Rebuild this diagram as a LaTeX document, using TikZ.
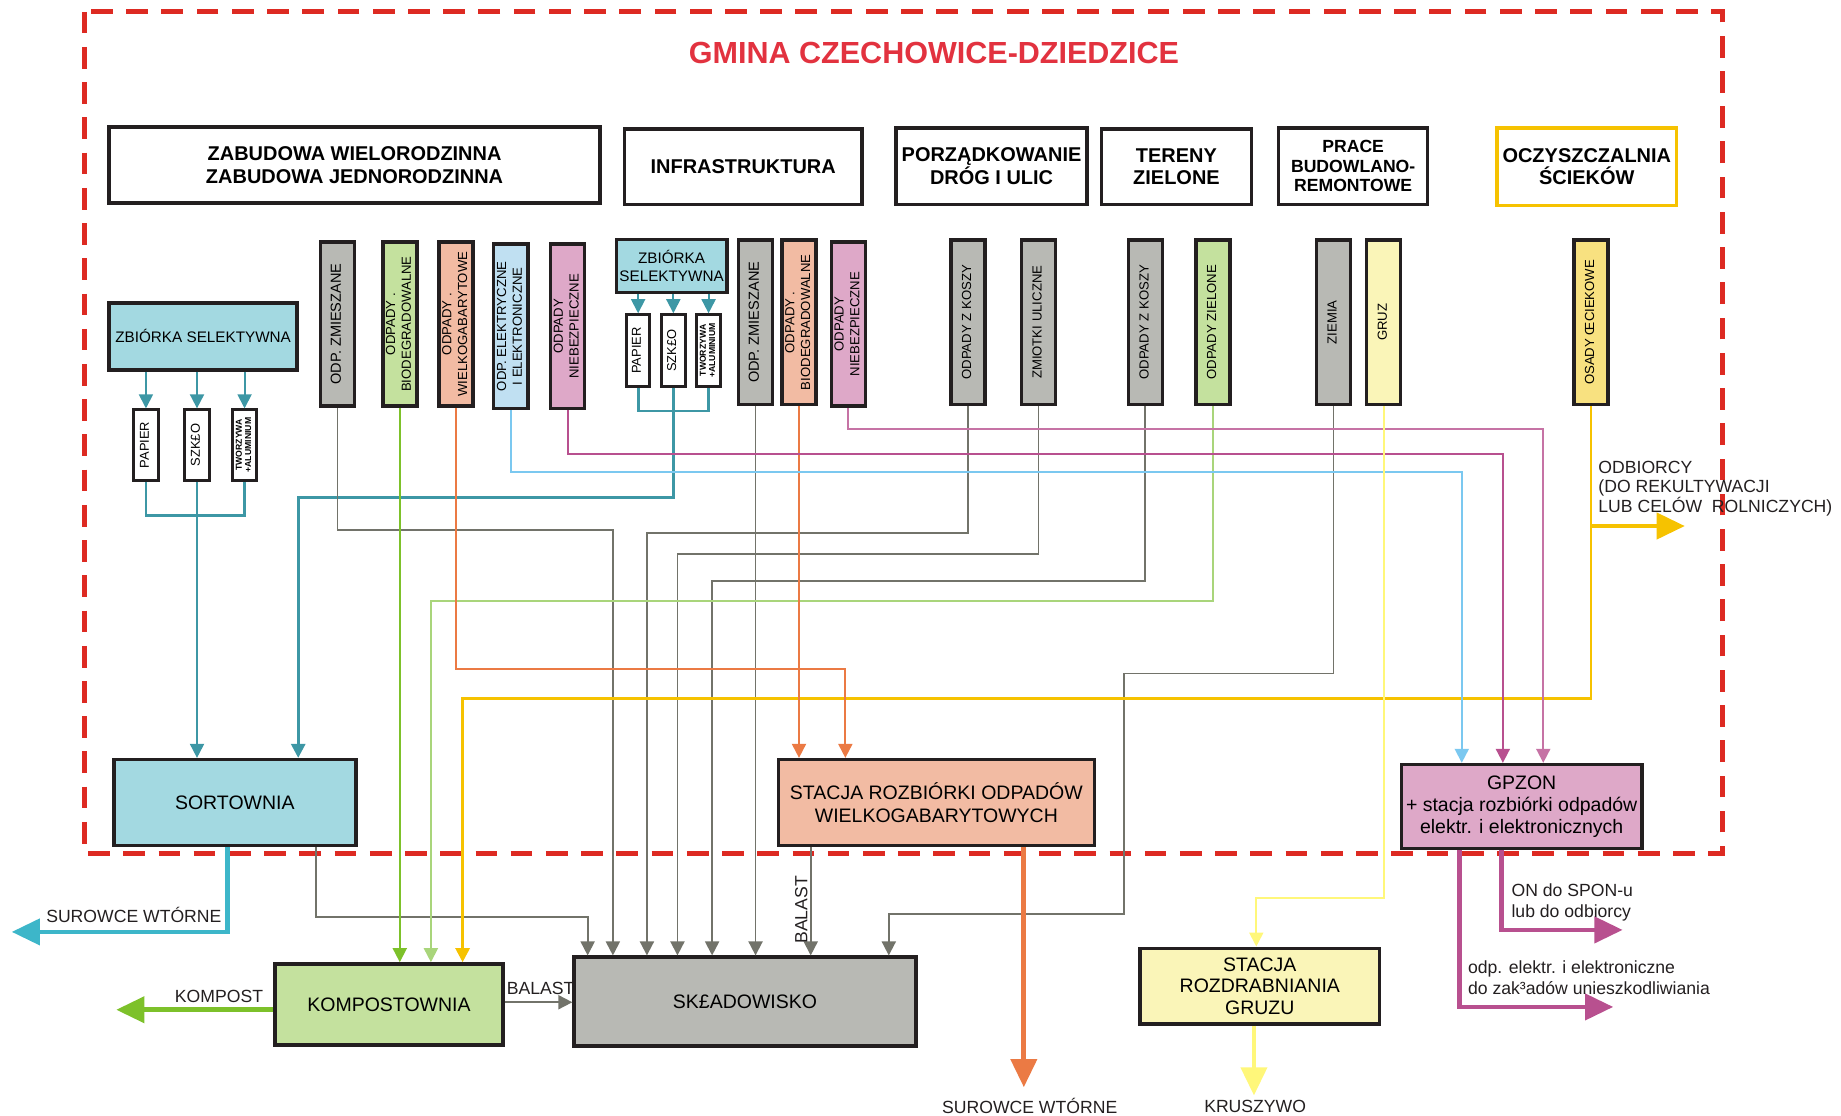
\documentclass[tikz,border=0pt]{standalone}
\usepackage{fontspec}
\setmainfont{Liberation Sans}
\usepackage{graphicx}
\usetikzlibrary{arrows.meta}

\definecolor{vermelho}{HTML}{DD2A22}
\definecolor{titulo}{HTML}{E2323F}
\definecolor{borda}{HTML}{231F20}
\definecolor{azulsort}{HTML}{A3D9E1}
\definecolor{azulpet}{HTML}{3D97A5}
\definecolor{turquesa}{HTML}{3DB6C9}
\definecolor{cinza}{HTML}{B8B9B4}
\definecolor{cinzalin}{HTML}{72736A}
\definecolor{verde}{HTML}{C4E19E}
\definecolor{verdelin}{HTML}{7DC12A}
\definecolor{verdeclaro}{HTML}{A9D57B}
\definecolor{salmao}{HTML}{F2BBA3}
\definecolor{laranja}{HTML}{EB7A44}
\definecolor{azulclaro}{HTML}{C0E0F2}
\definecolor{azullin}{HTML}{7BC8F0}
\definecolor{rosa}{HTML}{DEA8C8}
\definecolor{roxo}{HTML}{B8508F}
\definecolor{amareloclaro}{HTML}{FAF5B8}
\definecolor{amarelolin}{HTML}{FFF77A}
\definecolor{amarelo}{HTML}{F8E180}
\definecolor{ouro}{HTML}{F6C200}

\newcommand{\vtxt}[1]{\rotatebox{90}{\begin{tabular}{@{}c@{}}#1\end{tabular}}}

\begin{document}
\begin{tikzpicture}[x=0.5pt,y=-0.5pt,
	caixa/.style={draw=borda, line width=1.5pt, inner sep=0pt, align=center},
	cab/.style={caixa, fill=white, font=\fontsize{8.5}{9.5}\selectfont\bfseries},
	coluna/.style={caixa, minimum width=14.5pt, minimum height=70pt, font=\fontsize{5.6}{6.7}\selectfont},
	caixinha/.style={caixa, line width=1.2pt, fill=white, minimum width=10.5pt, minimum height=30pt, font=\fontsize{5.5}{6}\selectfont},
	estacao/.style={caixa, font=\fontsize{8.3}{10}\selectfont},
	rotulo/.style={font=\fontsize{7.5}{8.7}\selectfont, inner sep=0pt, text=borda},
	fina/.style={line width=0.8pt, -{Triangle[length=6pt,width=6pt]}},
	grossa/.style={line width=2pt, -{Triangle[length=12pt,width=11pt]}}]
		\useasboundingbox (0,0) rectangle (1568,950);
		\draw[vermelho, line width=2.2pt, dash pattern=on 9.25pt off 5.75pt] (72,10) rectangle (1467,727);	% Gmina
		\node[font=\fontsize{13}{15}\selectfont\bfseries, text=titulo] (titulo) at (795.5,45) {GMINA CZECHOWICE-DZIEDZICE};
		
		% Caixas superiores
		\node[cab, minimum width=209pt, minimum height=32.5pt] (zab) at (302,140.5) {ZABUDOWA WIELORODZINNA\\ZABUDOWA JEDNORODZINNA};
		\node[cab, minimum width=101pt, minimum height=32pt] (infra) at (633,142) {INFRASTRUKTURA};
		\node[cab, minimum width=81.5pt, minimum height=32.5pt] (porz) at (844.5,141.5) {PORZĄDKOWANIE\\DRÓG I ULIC};
		\node[cab, minimum width=64pt, minimum height=32pt] (tereny) at (1002,142) {TERENY\\ZIELONE};
		\node[cab, minimum width=63.5pt, minimum height=32.5pt, font=\fontsize{7.5}{8.25}\selectfont\bfseries] (prace) at (1152.5,141.5) {PRACE\\BUDOWLANO-\\REMONTOWE};
		\node[cab, draw=ouro, minimum width=76.5pt, minimum height=33pt] (oczysz) at (1351.5,142) {OCZYSZCZALNIA\\ŚCIEKÓW};
		
		% Zbiorka selektywna
		\node[caixa, fill=azulsort, minimum width=80pt, minimum height=28.5pt, font=\fontsize{6.5}{7.8}\selectfont] (zsel1) at (173,286.5) {ZBIÓRKA SELEKTYWNA};
		\node[caixa, fill=azulsort, minimum width=47pt, minimum height=22.5pt, font=\fontsize{6.5}{7.8}\selectfont] (zsel2) at (572,226.5) {ZBIÓRKA\\SELEKTYWNA};
		\node[caixinha] (pap1) at (124.3,379) {\vtxt{PAPIER}};
		\node[caixinha] (szk1) at (167.8,379) {\vtxt{SZK£O}};
		\node[caixinha, font=\fontsize{3.7}{4}\selectfont\bfseries] (tw1) at (208.3,379) {\vtxt{TWORZYWA\\+ALUMINIUM}};
		\node[caixinha, minimum width=10pt, minimum height=30.5pt] (pap2) at (543.5,298.5) {\vtxt{PAPIER}};
		\node[caixinha, minimum width=10pt, minimum height=30.5pt] (szk2) at (573.5,298.5) {\vtxt{SZK£O}};
		\node[caixinha, minimum width=10pt, minimum height=30.5pt, font=\fontsize{3.7}{4}\selectfont\bfseries] (tw2) at (603.5,298.5) {\vtxt{TWORZYWA\\+ALUMINIUM}};
		
		% Colunas
		\node[coluna, fill=cinza, font=\fontsize{6.2}{7}\selectfont] (zmi1) at (287.5,276) {\vtxt{ODP. ZMIESZANE}};
		\node[coluna, fill=verde] (bio1) at (340.5,276) {\vtxt{ODPADY .\\BIODEGRADOWALNE}};
		\node[coluna, fill=salmao] (wie1) at (388.5,276) {\vtxt{ODPADY .\\WIELKOGABARYTOWE}};
		\node[coluna, fill=azulclaro] (ele1) at (435,278) {\vtxt{ODP. ELEKTRYCZNE\\I ELEKTRONICZNE}};
		\node[coluna, fill=rosa] (nie1) at (483.5,278) {\vtxt{ODPADY\\NIEBEZPIECZNE}};
		\node[coluna, fill=cinza, font=\fontsize{6.2}{7}\selectfont] (zmi2) at (643.5,274.5) {\vtxt{ODP. ZMIESZANE}};
		\node[coluna, fill=salmao] (bio2) at (680.5,274.5) {\vtxt{ODPADY .\\BIODEGRADOWALNE}};
		\node[coluna, fill=rosa] (nie2) at (722.5,276) {\vtxt{ODPADY\\NIEBEZPIECZNE}};
		\node[coluna, fill=cinza] (kos1) at (824.5,274.5) {\vtxt{ODPADY Z KOSZY}};
		\node[coluna, fill=cinza] (zmio) at (884.5,274.5) {\vtxt{ZMIOTKI ULICZNE}};
		\node[coluna, fill=cinza] (kos2) at (975.5,274.5) {\vtxt{ODPADY Z KOSZY}};
		\node[coluna, fill=verde] (ziel) at (1033,274.5) {\vtxt{ODPADY ZIELONE}};
		\node[coluna, fill=cinza] (ziem) at (1135.7,274.5) {\vtxt{ZIEMIA}};
		\node[coluna, fill=amareloclaro] (gruz) at (1178.5,274.5) {\vtxt{GRUZ}};
		\node[coluna, fill=amarelo] (osad) at (1355,274.5) {\vtxt{OSADY ŒCIEKOWE}};
		
		% Instalacje
		\node[estacao, fill=azulsort, minimum width=103pt, minimum height=36.5pt] (sort) at (200,683.5) {SORTOWNIA};
		\node[estacao, fill=verde, minimum width=97.3pt, minimum height=34.5pt] (komp) at (331.3,855.5) {KOMPOSTOWNIA};
		\node[estacao, fill=cinza, minimum width=145.5pt, minimum height=37.75pt] (skl) at (634.5,853) {SK£ADOWISKO};
		\node[estacao, fill=salmao, minimum width=134.5pt, minimum height=36.5pt] (rozb) at (797.5,683.5) {STACJA ROZBIÓRKI ODPADÓW\\WIELKOGABARYTOWYCH};
		\node[estacao, fill=amareloclaro, minimum width=102pt, minimum height=32.3pt, font=\fontsize{8.3}{9.25}\selectfont] (rozd) at (1073,840) {STACJA\\ROZDRABNIANIA\\GRUZU};
		\node[estacao, fill=rosa, minimum width=102.3pt, minimum height=35.8pt, font=\fontsize{8.3}{9.5}\selectfont] (gpzon) at (1296,687) {GPZON\\+ stacja rozbiórki odpadów\\elektr. i elektronicznych};
		
		% Pontas livres
		\coordinate (surow1)	at (10,793.7);
		\coordinate (kompost)	at (99,860);
		\coordinate (surow2)	at (872,926);
		\coordinate (krusz)		at (1068,933);
		\coordinate (odb)		at (1435,448);
		\coordinate (spon)		at (1382,792);
		\coordinate (unie)		at (1374,857.6);
		
		% Setas - zbiorka
		\foreach \c in {pap1,szk1,tw1} \draw[fina, azulpet] (zsel1.south -| \c) -- (\c.north);
		\foreach \c in {pap2,szk2,tw2} \draw[fina, azulpet] (zsel2.south -| \c) -- (\c.north);
		\draw[azulpet, line width=1.1pt] (pap1.south) |- (tw1.south |- 0,439) -- (tw1.south);
		\draw[fina, azulpet] (szk1.south) -- (szk1.south |- sort.north);
		\draw[azulpet, line width=1.2pt] (pap2.south) |- (tw2.south |- 0,350) -- (tw2.south);
		\draw[fina, azulpet, line width=1.2pt] (szk2.south) |- (254,423.6) -- (254,423.6 |- sort.north);
		
		% Setas - skladowisko
		\draw[fina, cinzalin] (zmi1.south) |- (522,451.5) -- (522,451.5 |- skl.north);
		\draw[fina, cinzalin] (kos1.south) |- (551,454) -- (551,454 |- skl.north);
		\draw[fina, cinzalin] (zmio.south) |- (577,471.5) -- (577,471.5 |- skl.north);
		\draw[fina, cinzalin] (kos2.south) |- (606.5,494.7) -- (606.5,494.7 |- skl.north);
		\draw[fina, cinzalin] (zmi2.south) -- (zmi2.south |- skl.north);
		\draw[fina, cinzalin] (ziem.south) |- (957,573.6) |- (757,778.6) -- (757,778.6 |- skl.north);
		\draw[fina, cinzalin] (sort.south -| 269,0) |- (500.5,781) -- (500.5,781 |- skl.north);
		\draw[fina, cinzalin] (rozb.south -| 690.5,0) -- (690.5,0 |- skl.north);
		\draw[fina, cinzalin] (komp.east |- 0,853.6) -- (skl.west |- 0,853.6);
		
		% Setas - kompostownia
		\draw[fina, verdelin] (bio1.south) -- (bio1.south |- komp.north);
		\draw[fina, verdeclaro] (ziel.south) |- (367,512) -- (367,512 |- komp.north);
		\draw[fina, ouro, line width=1.2pt] (osad.south) |- (394,595) -- (394,595 |- komp.north);
		\draw[grossa, ouro] (osad.south |- odb) -- (odb);
		
		% Setas - stacje
		\draw[fina, laranja] (wie1.south) |- (720,570) -- (720,570 |- rozb.north);
		\draw[fina, laranja] (bio2.south) -- (bio2.south |- rozb.north);
		\draw[fina, azullin] (ele1.south) |- (1245,402) -- (1245,402 |- gpzon.north);
		\draw[fina, roxo] (nie1.south) |- (1280,387) -- (1280,387 |- gpzon.north);
		\draw[fina, roxo!80] (nie2.south) |- (1314.4,365.4) -- (1314.4,365.4 |- gpzon.north);
		\draw[fina, amarelolin] (gruz.south) |- (1070,765) -- (1070,765 |- rozd.north);
		
		% Setas - saidas
		\draw[grossa, turquesa] (sort.south -| 194,0) |- (surow1);
		\draw[grossa, verdelin] (komp.west |- kompost) -- (kompost);
		\draw[grossa, laranja] (rozb.south -| surow2) -- (surow2);
		\draw[grossa, amarelolin] (rozd.south -| krusz) -- (krusz);
		\draw[grossa, roxo] (gpzon.south -| 1279,0) |- (spon);
		\draw[grossa, roxo] (gpzon.south -| 1243,0) |- (unie);
		
		% Rotulos
		\node[rotulo] (lsurow1) at (114,779) {SUROWCE WTÓRNE};
		\node[rotulo] (lkompost) at (186.5,849) {KOMPOST};
		\node[rotulo] (lbalast1) at (460.5,842) {BALAST};
		\node[rotulo] (lbalast2) at (682.5,775) {\rotatebox{90}{BALAST}};
		\node[rotulo] (lsurow2) at (877,942) {SUROWCE WTÓRNE};
		\node[rotulo] (lkrusz) at (1069,942) {KRUSZYWO};
		\node[rotulo, anchor=west, align=left] (lspon) at (1287,768.5) {ON do SPON-u\\lub do odbiorcy};
		\node[rotulo, anchor=west, align=left, font=\fontsize{7.5}{9}\selectfont] (lunie) at (1250,833) {odp. elektr. i elektroniczne\\do zak³adów unieszkodliwiania};
		\node[rotulo, anchor=west, align=left, font=\fontsize{7.5}{8.35}\selectfont] (lodb) at (1361,416) {ODBIORCY\\(DO REKULTYWACJI\\LUB CELÓW\ \ ROLNICZYCH)};
	\end{tikzpicture}
\end{document}
